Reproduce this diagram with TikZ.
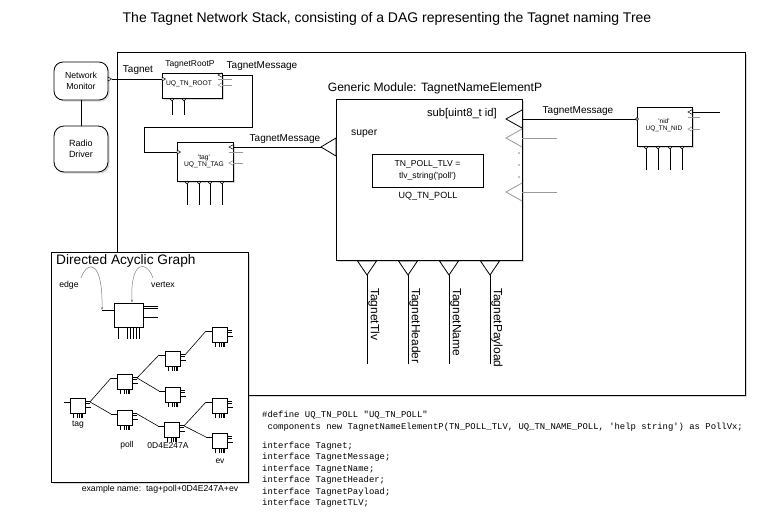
\documentclass[tikz,border=0pt]{standalone}
\usepackage{fontspec}
\setmainfont{Liberation Sans}
\newfontfamily\codefont{Liberation Mono}
\usetikzlibrary{shadows,arrows.meta}
\newcommand\myfs[2]{\fontsize{#1}{#2}\selectfont}
\begin{document}
\begin{tikzpicture}[x=1pt,y=-1pt,
  shad/.style={drop shadow={shadow xshift=1.6pt,shadow yshift=-1.6pt,opacity=0.3}},
  box/.style={draw,fill=white,line width=0.8pt,inner sep=0pt,shad},
  wire/.style={line width=0.7pt},
  gwire/.style={line width=0.7pt,draw=black!40},
  lbl/.style={inner sep=0pt,font=\myfs{10}{12}},
  tiny/.style={inner sep=0pt,align=center,font=\myfs{6.7}{6.8}},
  codeline/.style={inner sep=0pt,anchor=base west,font=\codefont\myfs{8.9}{11}},
  outarr/.pic={\draw[line width=0.5pt] (4,-2.2) -- (0,0) -- (4,2.2);},
  intri/.pic={\draw[line width=0.5pt,fill=white] (0,-2) -- (3.5,0) -- (0,2) -- cycle;},
  tnode/.pic={
    \draw[line width=0.6pt,fill=white] (0,0) rectangle (15,15);
    \draw[line width=0.5pt] (-6,4) -- (0,4);
    \draw[line width=0.5pt] (15,3) -- (20,3) (15,4.8) -- (20,4.8);
    \draw[line width=0.5pt] (15,9) -- (21,9);
    \draw[line width=0.6pt] (3,15) -- (3,20) (7,15) -- (7,20) (9,15) -- (9,20) (11,15) -- (11,20) (12.5,15) -- (12.5,20);
    \coordinate (-in) at (-6,4);
    \coordinate (-out) at (20,3.9);
  }
]
\useasboundingbox (0,0) rectangle (774,520);

% title
\node[font=\myfs{14}{16}] (title) at (387,19) {The Tagnet Network Stack, consisting of a DAG representing the Tagnet naming Tree};

% outer frame
\node[box,anchor=north west,minimum width=628pt,minimum height=343pt] (frame) at (117,52) {};

% network monitor / radio driver
\node[box,rounded corners=9pt,minimum width=54pt,minimum height=38pt,align=center,font=\myfs{8.7}{11}] (netmon) at (81,81) {Network\\Monitor};
\node[box,rounded corners=10pt,minimum width=54pt,minimum height=46pt,align=center,font=\myfs{9}{11.5}] (radio) at (81,149) {Radio\\Driver};
\draw[wire] (netmon.south) -- (radio.north);

\coordinate (nmout) at (111.5,79);
\coordinate (rootin) at (162,79);
\draw[wire] (nmout) -- (rootin);
\pic at (108,79) {intri};
\node[lbl] (lbltagnet) at (138,70) {Tagnet};

% TagnetRootP
\node[box,minimum width=60pt,minimum height=25pt] (root) at (192,85.5) {};
\node[inner sep=0pt,font=\myfs{8.5}{10}] (rootname) at (190,64) {TagnetRootP};
\node[tiny] (rootid) at (189,84) {UQ\_TN\_ROOT};
\pic at (rootin) {intri};
\coordinate (rootout) at (222,75);
\pic at (218,75) {outarr};
\draw[gwire] (218,79.5) -- (232,79.5);
\pic[color=black!45] at (218,85) {outarr};
\draw[gwire] (222,85) -- (232,85);
\foreach \x in {172,184} {
  \draw[wire] (\x,98) -- (\x,115);
  \draw[line width=0.4pt,fill=white] (\x,99.5) circle (1.5pt);
}

% TAG element
\coordinate (tagin) at (177,152);
\draw[wire] (rootout) -- (252,75) -- (252,127) -- (144,127) -- (144,152) -- (tagin);
\node[lbl] (lblmsg1) at (262,66) {TagnetMessage};

\node[box,minimum width=56pt,minimum height=39pt] (tagbox) at (205,161.5) {};
\node[tiny] (tagid) at (204,161) {\textquotesingle tag\textquotesingle\\UQ\_TN\_TAG};
\pic at (tagin) {intri};
\coordinate (tagout) at (233,147);
\pic at (229,147) {outarr};
\draw[gwire] (229,152) -- (243,152);
\pic[color=black!45] at (229,163) {outarr};
\draw[gwire] (233,163) -- (243,163);
\foreach \x in {187,199,210,222} {
  \draw[wire] (\x,181) -- (\x,205);
  \draw[line width=0.4pt,fill=white] (\x,182.5) circle (1.5pt);
}

% generic module
\node[box,minimum width=186pt,minimum height=161pt] (gm) at (429,179.5) {};
\node[inner sep=0pt,font=\myfs{12.1}{14}] (gmname) at (435,88) {Generic Module: TagnetNameElementP};
\node[inner sep=0pt,font=\myfs{11.2}{13},anchor=east] (sublbl) at (497,114) {sub[uint8\_t id]};
\node[inner sep=0pt,font=\myfs{10.4}{12},anchor=west] (superlbl) at (351,134) {super};
\node[draw,line width=0.7pt,minimum width=111pt,minimum height=33pt,inner sep=0pt,align=center,font=\myfs{8.6}{11.5}] (tlvbox) at (427.5,170.5) {TN\_POLL\_TLV =\\tlv\_string(\textquotesingle poll\textquotesingle)};
\node[inner sep=0pt,font=\myfs{9}{11}] (pollid) at (428,196) {UQ\_TN\_POLL};

% super port
\coordinate (superin) at (321,147);
\draw[wire] (tagout) -- (superin);
\draw[line width=0.8pt,fill=white] (336,138) -- (superin) -- (336,156) -- cycle;
\node[lbl] (lblmsg2) at (285,139) {TagnetMessage};

% sub ports
\draw[line width=0.8pt] (522,110) -- (506,119) -- (522,128);
\draw[line width=0.8pt,black!40] (522,129) -- (506,138) -- (522,147);
\draw[line width=0.8pt,black!40] (522,183) -- (506,192) -- (522,201);
\draw[gwire] (522,138) -- (557,138);
\draw[gwire] (522,192) -- (557,192);
\foreach \y in {153,165,177} \fill (519,\y) circle (0.7pt);
\coordinate (subout) at (522,119);
\coordinate (nidin) at (637,119);
\draw[wire] (subout) -- (nidin);
\node[lbl] (lblmsg3) at (578,111) {TagnetMessage};

% interfaces below module
\foreach \x/\t [count=\i] in {367/TagnetTlv,408/TagnetHeader,449/TagnetName,490/TagnetPayload} {
  \draw[line width=0.8pt,fill=white] (\x-9.5,261) -- (\x,275) -- (\x+9.5,261) -- cycle;
  \coordinate (if\i) at (\x,275);
  \coordinate (ifend\i) at (\x,364);
  \draw[wire] (if\i) -- (ifend\i);
  \node[inner sep=0pt,rotate=-90,anchor=south west,font=\myfs{12}{13}] (iflbl\i) at (\x+1.2,288) {\t};
}

% nid element
\node[box,minimum width=55pt,minimum height=39pt] (nid) at (664.5,126.5) {};
\node[tiny,font=\myfs{6.5}{7}] (nidid) at (664,125.5) {\textquotesingle nid\textquotesingle\\UQ\_TN\_NID};
\draw[line width=0.4pt,fill=white] (nidin) circle (1.5pt);
\coordinate (nidout) at (692,112);
\coordinate (nidend) at (720,112);
\draw[wire] (nidout) -- (nidend);
\pic at (688,112) {outarr};
\draw[gwire] (688,117) -- (700,117);
\pic[color=black!45] at (688,129) {outarr};
\draw[gwire] (692,129) -- (700,129);
\foreach \x in {646,658,670,682} {
  \draw[wire] (\x,146) -- (\x,170);
  \draw[line width=0.4pt,fill=white] (\x,147.5) circle (1.5pt);
}

% DAG box
\node[box,anchor=north west,minimum width=197pt,minimum height=230pt] (dag) at (51,252) {};
\node[inner sep=0pt,anchor=west,font=\myfs{13.7}{15}] (dagtitle) at (56,261) {Directed Acyclic Graph};
\node[inner sep=0pt,font=\myfs{8.7}{10}] (edgelbl) at (69,285) {edge};
\node[inner sep=0pt,font=\myfs{8.7}{10}] (vertexlbl) at (163,285) {vertex};

\node[draw,fill=white,line width=0.8pt,minimum width=29pt,minimum height=24pt,inner sep=0pt] (vbox) at (128.5,315) {};
\coordinate (vin) at (102,310);
\coordinate (vtop) at (132,302.5);
\draw[line width=0.6pt] (vin) -- (vbox.west |- vin);
\draw[line width=0.6pt] (143,306) -- (158,306) (143,308) -- (158,308) (143,317) -- (158,317);
\foreach \x in {118,127,130,133,136,139} \draw[line width=0.6pt] (\x,327) -- (\x,339);
\draw[black!50,line width=0.5pt,-{Stealth[length=3pt,width=2.4pt]}] (81,278) .. controls (88,259) and (103,261) .. (vin);
\draw[black!50,line width=0.5pt,-{Stealth[length=3pt,width=2.4pt]}] (153,278) .. controls (146,259) and (130,261) .. (vtop);

% tree
\pic (ntag) at (70,398) {tnode};
\pic (nA) at (117,374) {tnode};
\pic (npoll) at (117,410) {tnode};
\pic (nB) at (165,351) {tnode};
\pic (nC) at (165,387) {tnode};
\pic (nD) at (212,327) {tnode};
\pic (nE) at (164,422) {tnode};
\pic (nF) at (212,398) {tnode};
\pic (nG) at (212,433) {tnode};
\draw[line width=0.6pt] (ntag-out) -- (nA-in);
\draw[line width=0.6pt] (ntag-out) -- (npoll-in);
\draw[line width=0.6pt] (nA-out) -- (nB-in);
\draw[line width=0.6pt] (nA-out) -- (nC-in);
\draw[line width=0.6pt] (nB-out) -- (nD-in);
\draw[line width=0.6pt] (npoll-out) -- (nE-in);
\draw[line width=0.6pt] (nE-out) -- (nF-in);
\draw[line width=0.6pt] (nE-out) -- (nG-in);
\node[inner sep=0pt,font=\myfs{8.5}{10}] (ltag) at (78,425) {tag};
\node[inner sep=0pt,font=\myfs{8.5}{10}] (lpoll) at (127,445) {poll};
\node[inner sep=0pt,font=\myfs{8.5}{10}] (lhex) at (168,446) {0D4E247A};
\node[inner sep=0pt,font=\myfs{8.5}{10}] (lev) at (220,461) {ev};
\node[inner sep=0pt,font=\myfs{8.7}{10}] (example) at (160,489) {example name:\ \ tag+poll+0D4E247A+ev};

% code
\node[codeline] (code1) at (262,417.5) {\#define UQ\_TN\_POLL \textquotedbl UQ\_TN\_POLL\textquotedbl};
\node[codeline] (code2) at (262,429) {\hphantom{x}components new TagnetNameElementP(TN\_POLL\_TLV, UQ\_TN\_NAME\_POLL, \textquotesingle help string\textquotesingle) as PollVx;};
\node[codeline] (code3) at (262,448) {interface Tagnet;};
\node[codeline] (code4) at (262,459.5) {interface TagnetMessage;};
\node[codeline] (code5) at (262,471) {interface TagnetName;};
\node[codeline] (code6) at (262,482.5) {interface TagnetHeader;};
\node[codeline] (code7) at (262,494) {interface TagnetPayload;};
\node[codeline] (code8) at (262,505.5) {interface TagnetTLV;};
\end{tikzpicture}
\end{document}
